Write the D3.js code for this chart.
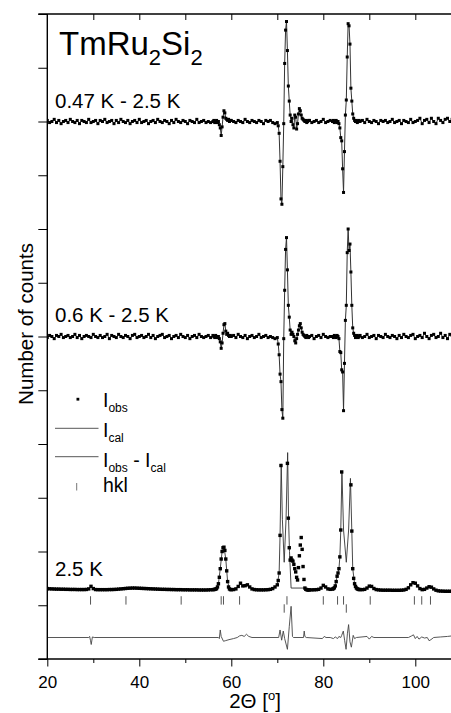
<!DOCTYPE html>
<html>
<head>
<meta charset="utf-8">
<script src="https://cdn.jsdelivr.net/npm/d3@7"></script>
<style>
    body { margin: 0; background: #fff; }
    svg text { font-family: "Liberation Sans", Arial, sans-serif; fill: #000; }
</style>
</head>
<body>
<script>
// 2-theta sampling: [start, stop, step]
const gridSegments = [[20, 56, 0.5], [56, 60, 0.2], [60, 70, 0.5], [70, 77, 0.2], [77, 82, 0.5], [82, 88, 0.2], [88, 108.01, 0.5]];

// 0.47 K - 2.5 K difference (counts)
const diffTop = [
    10, -10, 0, 20, -10, 10, -20, 0, 10, -10, 20, 0, -10, 10, -20, 10, 0, -10, 20, -10,
    0, 10, -20, 10, 0, 20, -10, 0, 10, -20, 10, -10, 20, 0, -10, 10, -20, 0, 10, -10,
    20, -10, 0, 10, -20, 0, 10, -10, 20, 0, -10, 10, 0, -20, 10, -10, 20, 0, -10, 10,
    0, -20, 10, 0, -10, 20, -10, 0, 10, -10, 0, -10,
    0, 10, -10, 0, 10, -10, 0, -30, -60, -130, -50, 40, 100, 80, 30, 20, 10, 20, 0, 10,
    10, 0, -10, 10, 0, -10, 20, 0, -10, 10, 0, -10, 10, 0, -20, 10, 0, 10, -10, -20,
    -10, -40, -110, -370, -720, -770, -420, -20, 540, 850, 930, 660, 330, 190, 60, 0, 30, -30, -60, 60,
    40, -70, -20, 70, 120, 100, 60, 30, 20, 10, 0, 10, -10, 0, 10,
    10, -10, 0, 10, -10, 0, 20, -10, 0, 10,
    0, 10, -10, 0, 10, -10, 0, -20, -60, -150, -180, -440, -660, -280, 60, 200, 600, 910, 890, 720,
    310, 190, 70, 30, 10, 0, 10, -10, 0, 10,
    0, 10, -10, 20, 0, -10, 10, 0, -20, 10, 0, 10, -10, 0, 20, -10, 0, 10, -20, 10,
    0, -10, 20, -10, 0, 10, 30, -20, 10, 20, -10, 30, 0, -20, 30, 10, -10, 20, 30, 0, 20
];

// 0.6 K - 2.5 K difference (counts)
const diffMid = [
    -10, 10, 0, -20, 10, 0, 20, -10, 0, 10, -10, 0, 20, -10, 10, -20, 0, 10, 0, -10,
    20, 0, -10, 10, -10, 0, 20, -20, 10, 0, -10, 20, 0, -10, 10, 0, -20, 10, 20, -10,
    0, 10, -10, 0, 20, -10, 10, -20, 0, 10, 20, -10, 0, 10, -20, 0, 10, -10, 20, 0,
    -10, 10, -20, 0, 10, -10, 20, 0, -10, 0, 10, -10,
    10, 0, -10, 10, 0, -10, 0, -20, -50, -110, -60, 30, 110, 120, 50, 20, 30, 10, 0, 10,
    0, 10, -10, 20, 0, -10, 10, -20, 0, 10, -10, 0, 20, -10, 0, 10, -10, 0, -10, -20,
    -10, -70, -170, -350, -420, -680, -760, -20, 430, 810, 920, 620, 290, 180, 60, 20, 40, 20, 0, -40,
    -60, -20, 20, 60, 100, 120, 80, 40, 20, 10, 0, -10, 10, 0, -10,
    0, 10, -20, 0, 10, -10, 20, 0, -10, 0,
    0, -10, 10, 0, -10, 10, 0, -20, -140, -150, -310, -330, -690, -250, 150, 290, 780, 1000, 800, 860,
    600, 290, 80, 30, 10, -10, 0, 10, -10, 0,
    10, -10, 0, 20, -10, 0, 10, -20, 10, 0, -10, 20, 0, -10, 10, 0, -20, 10, -10, 20,
    0, -10, 10, 20, -20, 0, 10, -10, 30, 0, -20, 10, 20, -10, 0, 30, -10, 10, -20, 20, 10
];

// 2.5 K observed intensity (counts)
const obs25 = [
    655, 653, 652, 651, 650, 650, 649, 649, 648, 648, 647, 647, 647, 646, 646, 646, 646, 647, 652, 676,
    655, 646, 645, 645, 645, 645, 645, 646, 646, 647, 648, 650, 652, 654, 656, 658, 659, 660, 660, 659,
    658, 657, 656, 655, 654, 653, 652, 651, 650, 649, 648, 648, 647, 647, 646, 646, 645, 645, 645, 644,
    644, 644, 643, 643, 643, 643, 642, 642, 642, 642, 643, 644,
    645, 646, 648, 650, 655, 670, 700, 760, 840, 930, 1000, 1035, 1040, 1010, 930, 820, 720, 670, 652, 646,
    645, 646, 652, 675, 705, 680, 682, 690, 670, 652, 646, 644, 643, 643, 643, 644, 645, 648, 655, 670,
    690, 730, 800, 1150, 1800, null, null, null, null, null, null, 1820, 1310, 1035, 920, 940, 920, 910, 880, 840,
    810, 760, 735, 850, 960, 1060, 1130, 1020, 860, 740, 660, 648, 645, 643, 642,
    643, 643, 644, 645, 648, 660, 685, 670, 652, 648,
    650, 655, 662, 680, 720, 770, 800, 840, 950, 1200, 1740, null, null, null, null, null, null, null, null, null,
    1620, 1190, 840, 750, 700, 675, 660, 652, 648, 646,
    646, 645, 648, 660, 678, 675, 656, 646, 643, 641, 640, 640, 640, 640, 639, 639, 639, 639, 640, 642,
    648, 662, 690, 710, 705, 680, 655, 645, 648, 660, 672, 668, 652, 640, 634, 632, 631, 630, 630, 630, 630
];

// 2.5 K calculated profile
const calcAngles = [20, 25, 28.5, 29, 29.5, 30, 30.5, 33, 35, 38.5, 42, 48, 53, 56, 56.8, 57.2, 57.6, 58, 58.4, 58.8,
    59.2, 59.6, 60.5, 61.5, 62, 62.5, 63.5, 64.5, 66, 68, 69, 70, 70.4, 70.6, 70.85, 71.1, 71.5, 71.9, 72.25, 72.45,
    72.65, 73, 75.9, 76.2, 77, 79, 79.5, 80, 80.5, 81, 82, 82.6, 83, 83.4, 83.6, 83.8, 84.05, 84.4, 85, 85.5,
    85.9, 86.2, 86.4, 86.8, 87.4, 88.5, 89.5, 90.2, 91, 92, 94, 97, 98, 99, 99.7, 100.5, 101.5, 102.5, 103.2, 104,
    105, 108];
const calcValues = [654, 647, 647, 651, 672, 654, 646, 645, 648, 659, 654, 645, 642, 645, 655, 700, 840, 1000, 1045, 930,
    720, 652, 646, 672, 702, 682, 688, 652, 643, 645, 655, 690, 800, 1150, 1815, 1300, 900, 1300, 1920, 1300,
    1000, 660, 660, 648, 643, 648, 660, 682, 668, 652, 650, 680, 770, 840, 950, 1200, 1745, 1200, 900, 1200,
    1680, 1190, 840, 700, 652, 645, 660, 680, 656, 643, 640, 640, 648, 690, 712, 680, 645, 660, 672, 652,
    634, 630];

// Iobs - Ical at 2.5 K
const diffAngles = [20, 29, 29.2, 29.4, 29.55, 29.8, 30.2, 57.2, 57.4, 57.6, 57.8, 58.3, 58.7, 59.5, 60.5, 61.3, 61.8, 62.3, 62.8, 63.3,
    63.8, 64.5, 70.3, 70.6, 70.95, 71.3, 71.6, 72.2, 72.6, 73, 73.3, 73.5, 75.7, 75.85, 76, 76.3, 79.8, 80.2, 80.6, 81.5,
    82.2, 82.6, 83.1, 83.4, 83.8, 84, 84.35, 84.65, 84.95, 85.25, 85.5, 85.8, 86.1, 86.5, 86.8, 87.2, 89.5, 90, 90.5, 91,
    98.5, 99.2, 99.6, 100, 100.4, 100.8, 101.4, 102, 102.6, 103, 103.4, 104, 105.5, 107, 108];
const diffValues = [0, 0, 10, -30, -65, 5, 0, 0, -10, 70, 10, -35, -30, -20, -10, 0, 15, 20, 10, 30,
    10, 0, 0, 70, -25, 60, -10, -110, 100, 290, 10, 0, 0, 60, 10, 0, -10, 10, 0, 0,
    -10, 5, -10, 10, 0, 20, 60, -30, -110, 40, 120, -40, -90, 20, -10, 0, 10, -15, 10, 0,
    0, 15, 25, -10, 10, -15, 5, -5, 0, -30, -20, 0, 5, 10, 15];

// reflection positions
const hklRow1 = [29.4, 37.1, 49.1, 57.8, 58.3, 61.8, 72.1, 80.0, 83.1, 84.4, 90.2, 99.8, 101.4, 103.3];
const hklRow2 = [71.5, 85.0];

const xMajor = [20, 40, 60, 80, 100];
const xMinor = [30, 50, 70, 90];
const yTicks = d3.range(0, 6001, 500);

const angles = gridSegments.flatMap(([a, b, s]) => d3.range(a, b - 1e-9, s).map(v => +v.toFixed(1)));

const width = 451, height = 713;
const svg = d3.select("body").append("svg")
    .attr("width", width)
    .attr("height", height);

const x = d3.scaleLinear().domain([20, 108]).range([47.3, 452.1]);
const y = d3.scaleLinear().domain([0, 6000]).range([659, 14]);

svg.append("defs").append("clipPath").attr("id", "clip")
    .append("rect")
    .attr("x", x(20)).attr("y", y(6000))
    .attr("width", width - x(20)).attr("height", y(0) - y(6000));

const plot = svg.append("g").attr("clip-path", "url(#clip)");

let line = d3.line()
    .defined(d => d.v != null)
    .x(d => x(d.a))
    .y(d => y(d.v));

function drawPattern(values, offset, withLine, size) {
    let pts = angles.map((a, i) => ({ a: a, v: values[i] == null ? null : values[i] + offset }));
    if (withLine) {
        plot.append("path")
            .datum(pts)
            .attr("d", line)
            .attr("fill", "none")
            .attr("stroke", "#333")
            .attr("stroke-width", 1);
    }
    plot.append("g").selectAll("rect")
        .data(pts.filter(d => d.v != null))
        .join("rect")
        .attr("x", d => x(d.a) - size / 2)
        .attr("y", d => y(d.v) - size / 2)
        .attr("width", size)
        .attr("height", size)
        .attr("fill", "#000");
}

// stacked patterns
drawPattern(diffTop, 5000, true, 3);
drawPattern(diffMid, 3000, true, 3);

// 2.5 K: calc line, then observed points
plot.append("path")
    .datum(calcAngles.map((a, i) => ({ a: a, v: calcValues[i] })))
    .attr("d", line)
    .attr("fill", "none")
    .attr("stroke", "#333")
    .attr("stroke-width", 0.9);
drawPattern(obs25, 0, false, 3.4);

// difference curve
plot.append("path")
    .datum(diffAngles.map((a, i) => ({ a: a, v: diffValues[i] + 200 })))
    .attr("d", line)
    .attr("fill", "none")
    .attr("stroke", "#444")
    .attr("stroke-width", 0.9);

// hkl ticks
[[hklRow1, 545], [hklRow2, 470]].forEach(([row, c]) => {
    plot.append("g").selectAll("line")
        .data(row)
        .join("line")
        .attr("x1", d => x(d)).attr("x2", d => x(d))
        .attr("y1", y(c) - 4.2).attr("y2", y(c) + 4.2)
        .attr("stroke", "#555")
        .attr("stroke-width", 1);
});

// axes
svg.append("g")
    .attr("transform", `translate(0,${y(0)})`)
    .call(d3.axisBottom(x).tickValues(xMajor).tickSize(7.5).tickPadding(9).tickFormat(d3.format("d")))
    .attr("font-family", "'Liberation Sans', Arial, sans-serif")
    .attr("font-size", 17)
    .call(g => g.select(".domain").remove());

svg.append("g")
    .attr("transform", `translate(0,${y(0)})`)
    .call(d3.axisBottom(x).tickValues(xMinor).tickSize(4).tickFormat(""))
    .call(g => g.select(".domain").remove());

svg.append("g")
    .attr("transform", `translate(0,${y(6000)})`)
    .call(d3.axisBottom(x).tickValues(d3.range(30, 101, 10)).tickSize(6).tickFormat(""))
    .call(g => g.select(".domain").remove());

svg.append("g")
    .attr("transform", `translate(${x(20)},0)`)
    .call(d3.axisLeft(y).tickValues(yTicks).tickSize(9).tickFormat(""))
    .call(g => g.select(".domain").remove());

[y(0), y(6000)].forEach(yy =>
    svg.append("line")
        .attr("x1", x(20) - 9).attr("x2", width)
        .attr("y1", yy).attr("y2", yy)
        .attr("stroke", "#000").attr("stroke-width", 1.4)
);
svg.append("line")
    .attr("x1", x(20)).attr("x2", x(20))
    .attr("y1", y(6000)).attr("y2", y(0))
    .attr("stroke", "#000").attr("stroke-width", 1.4);

// axis titles
const xt = svg.append("text")
    .attr("x", 255).attr("y", 708)
    .attr("text-anchor", "middle")
    .attr("font-size", 20.5);
xt.append("tspan").text("2\u0398 [");
xt.append("tspan").attr("font-size", 13).attr("dy", -8).text("o");
xt.append("tspan").attr("dy", 8).text("]");

svg.append("text")
    .attr("transform", "translate(33,324) rotate(-90)")
    .attr("text-anchor", "middle")
    .attr("font-size", 20.5)
    .text("Number of counts");

// title
const title = svg.append("text").attr("x", 59).attr("y", 55).attr("font-size", 33);
title.append("tspan").text("TmRu");
title.append("tspan").attr("font-size", 22).attr("dy", 10).text("2");
title.append("tspan").attr("dy", -10).text("Si");
title.append("tspan").attr("font-size", 22).attr("dy", 10).text("2");

// pattern labels
[["0.47 K - 2.5 K", 108.3], ["0.6 K - 2.5 K", 321.7], ["2.5 K", 576]].forEach(([t, yy]) =>
    svg.append("text").attr("x", 55).attr("y", yy).attr("font-size", 20.5).text(t)
);

// legend
const lg = svg.append("g");
lg.append("rect").attr("x", 76.5).attr("y", 397.8).attr("width", 2.8).attr("height", 2.8).attr("fill", "#000");
[428.3, 456.7].forEach(yy =>
    lg.append("line").attr("x1", 55).attr("x2", 98.5).attr("y1", yy).attr("y2", yy)
        .attr("stroke", "#444").attr("stroke-width", 0.9)
);
lg.append("line").attr("x1", 76.7).attr("x2", 76.7).attr("y1", 483).attr("y2", 490.5)
    .attr("stroke", "#777").attr("stroke-width", 1);

let l1 = lg.append("text").attr("x", 103).attr("y", 406.7).attr("font-size", 19.5);
l1.append("tspan").text("I");
l1.append("tspan").attr("font-size", 12).attr("dy", 5).text("obs");

let l2 = lg.append("text").attr("x", 103).attr("y", 436.7).attr("font-size", 19.5);
l2.append("tspan").text("I");
l2.append("tspan").attr("font-size", 12).attr("dy", 5).text("cal");

let l3 = lg.append("text").attr("x", 103).attr("y", 466.7).attr("font-size", 19.5);
l3.append("tspan").text("I");
l3.append("tspan").attr("font-size", 12).attr("dy", 5).text("obs");
l3.append("tspan").attr("dy", -5).text(" - I");
l3.append("tspan").attr("font-size", 12).attr("dy", 5).text("cal");

lg.append("text").attr("x", 103).attr("y", 491.7).attr("font-size", 19.5).text("hkl");
</script>
</body>
</html>
